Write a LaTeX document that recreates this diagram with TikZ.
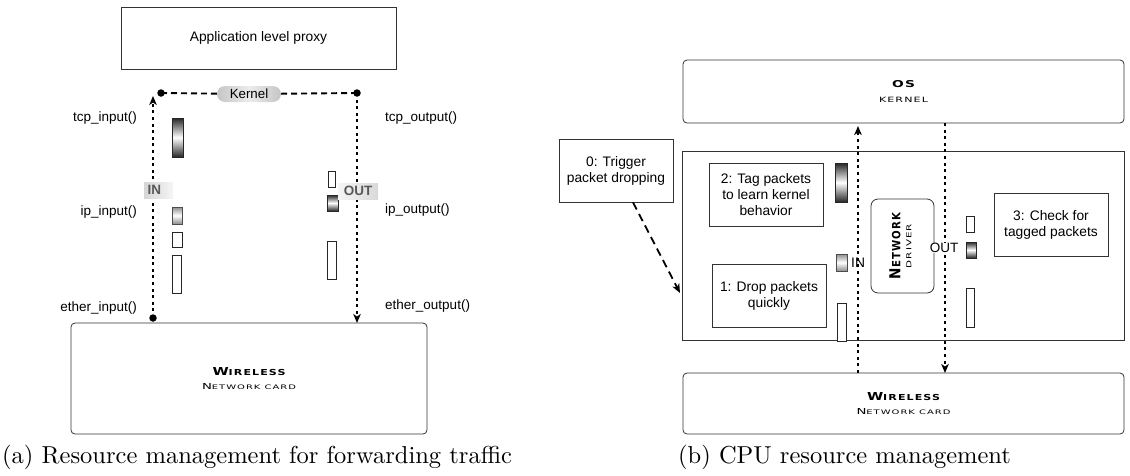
\documentclass[tikz,border=0pt]{standalone}
\usepackage{fontspec}
\usepackage{graphicx}
\usetikzlibrary{arrows.meta}
\newfontfamily\hv{Liberation Sans}
\newfontfamily\cp[LetterSpace=10]{DejaVu Sans}
\newfontfamily\capfont{lmroman10-regular.otf}
\newcommand{\fsz}[2]{\fontsize{#1}{#2}\selectfont}
\newcommand{\scW}[2]{\resizebox{#1pt}{#2pt}{\cp\bfseries\fsz{10}{12}W\fsz{7.5}{12}IRELESS}}
\newcommand{\scN}[2]{\resizebox{#1pt}{#2pt}{\cp\fsz{10}{12}N\fsz{7.5}{12}ETWORK CARD}}
\begin{document}
\begin{tikzpicture}[x=1pt,y=-1pt,
  box/.style={draw=black!80,line width=0.8pt,inner sep=0pt,align=center,font=\hv\fsz{13.8}{16}},
  rbox/.style={box,rounded corners=4pt},
  lbl/.style={inner sep=0pt,font=\hv\fsz{13.5}{16}},
  wbar/.style={draw=black!85,line width=0.7pt,fill=white,inner sep=0pt},
  gbar/.style={draw=black!85,line width=0.7pt,inner sep=0pt,top color=black!85,bottom color=black!85,middle color=white},
  lbar/.style={draw=black!70,line width=0.7pt,inner sep=0pt,top color=black!45,bottom color=black!45,middle color=white},
  dotline/.style={line width=2.4pt,dash pattern=on 3pt off 3.6pt},
  dashline/.style={line width=1.9pt,dash pattern=on 6pt off 4pt},
  tip/.style={-{Stealth[length=9pt,width=7.5pt,inset=2.5pt]}},
  dot/.style={circle,fill=black,inner sep=0pt,minimum size=7.5pt},
  captxt/.style={inner sep=0pt,font=\capfont\fsz{24.5}{28}},
  tagA/.style={inner sep=0pt,font=\hv\bfseries\fsz{13.5}{16},text=black!65,minimum height=16pt}
]
\useasboundingbox (0,0) rectangle (1130,475);

% ---------------- (a) ----------------
\node[box,minimum width=275,minimum height=62] (app) at (258.5,38) {Application level proxy};
\node[rbox,minimum width=356,minimum height=111,font=\fsz{8}{13.3}] (wa) at (249,378.5)
  {\scW{73}{8}\\\scN{94}{6}};

\coordinate (kl) at (161,93);
\coordinate (kr) at (357,93);
\coordinate (ein) at (153,318);
\coordinate (inTop) at (153,96);
\coordinate (outBot) at (357,323);

\node[inner sep=0pt,minimum width=64pt,minimum height=16pt,rounded corners=8pt,
  left color=gray!45,right color=gray!45,middle color=gray!15,font=\hv\fsz{13.3}{16}] (kern) at (249,94) {Kernel};

\draw[dashline] (kl) -- (kern);
\draw[dashline] (kern) -- (kr);
\draw[dotline,tip] (ein) -- (inTop);
\draw[dotline,tip] (kr) -- (outBot);
\node[dot] (dkl) at (kl) {};
\node[dot] (dkr) at (kr) {};
\node[dot] (dein) at (ein) {};

\node[lbl,anchor=east] (ltcpi) at (137,118) {tcp\_input()};
\node[lbl,anchor=east] (lipi) at (137,212) {ip\_input()};
\node[lbl,anchor=east] (lethi) at (137,308) {ether\_input()};
\node[lbl,anchor=west] (ltcpo) at (385,118) {tcp\_output()};
\node[lbl,anchor=west] (lipo) at (385,210) {ip\_output()};
\node[lbl,anchor=west] (letho) at (385,306) {ether\_output()};

\node[gbar,minimum width=11pt,minimum height=39pt] (gA) at (177.5,137.5) {};
\node[lbar,minimum width=10pt,minimum height=17pt] (ipA) at (177,215.5) {};
\node[wbar,minimum width=10pt,minimum height=15pt] (wA1) at (177,239.5) {};
\node[wbar,minimum width=9pt,minimum height=38pt] (wA2) at (176.5,274) {};
\node[wbar,minimum width=7pt,minimum height=16pt] (wR1) at (331.5,179) {};
\node[gbar,minimum width=11pt,minimum height=16pt] (gR) at (332.5,203) {};
\node[wbar,minimum width=9pt,minimum height=38pt] (wR2) at (331.5,260) {};

\node[tagA,minimum width=29pt,left color=gray!32,right color=gray!8,text width=26pt,align=left] (inA) at (158.5,190) {\hspace*{2pt}IN};
\node[tagA,minimum width=40pt,left color=gray!8,right color=gray!30] (outA) at (358,191) {OUT};

\node[captxt,anchor=west] (capa) at (2,457) {(a) Resource management for forwarding traffic};

% ---------------- (b) ----------------
\node[rbox,minimum width=441,minimum height=63,font=\fsz{8}{14.4}] (os) at (903.5,91.5)
  {\resizebox{23pt}{7pt}{\cp\bfseries OS}\\\resizebox{49pt}{5.3pt}{\cp KERNEL}};
\node[box,minimum width=442,minimum height=189] (cpu) at (903,245.5) {};
\node[rbox,minimum width=441,minimum height=61,font=\fsz{8}{13.3}] (wb) at (903.5,403.5)
  {\scW{73}{8}\\\scN{94}{6}};

\node[box,minimum width=114,minimum height=63] (trig) at (616,170.5) {0: Trigger\\packet dropping};
\node[box,minimum width=114,minimum height=63] (tag) at (766,194.5) {2: Tag packets\\to learn kernel\\behavior};
\node[box,minimum width=114,minimum height=63] (drop) at (769,295.5) {1: Drop packets\\quickly};
\node[box,minimum width=114,minimum height=63] (check) at (1051,224.5) {3: Check for\\tagged packets};
\node[rbox,rounded corners=7pt,minimum width=63,minimum height=94] (drv) at (902.5,246) {};
\node[rotate=90,inner sep=0pt,align=center,font=\fsz{8}{11}] (drvtxt) at (900.3,246)
  {\resizebox{66pt}{11pt}{\cp\bfseries\fsz{10}{12}N\fsz{7.5}{12}ETWORK}\\\resizebox{44pt}{5pt}{\cp DRIVER}};

\node[gbar,minimum width=12pt,minimum height=39pt] (gB) at (841,182.5) {};
\node[lbar,minimum width=11pt,minimum height=17pt] (ipB) at (841.5,262.5) {};
\node[wbar,minimum width=9pt,minimum height=38pt] (wB) at (841.5,322) {};
\node[wbar,minimum width=8pt,minimum height=16pt] (wC1) at (970,224) {};
\node[gbar,minimum width=10pt,minimum height=16pt] (gC) at (971,250) {};
\node[wbar,minimum width=8pt,minimum height=39pt] (wC2) at (970,307.5) {};

\coordinate (inBot) at (858,373);
\coordinate (inTip) at (858,126);
\coordinate (outTop) at (945,123);
\coordinate (outTip) at (945,373);
\draw[dotline,tip] (inBot) -- (inTip);
\draw[dotline,tip] (outTop) -- (outTip);

\node[lbl,anchor=west,font=\hv\fsz{13.8}{16}] (inB) at (851,263) {IN};
\node[lbl,fill=white,inner sep=0.5pt,font=\hv\fsz{13.5}{16}] (outB) at (944,248) {OUT};

\draw[line width=1.8pt,dash pattern=on 8pt off 5pt,tip] (trig.south -| 633,0) -- (680,293);

\node[captxt,anchor=west] (capb) at (678,457) {(b) CPU resource management};
\end{tikzpicture}
\end{document}
